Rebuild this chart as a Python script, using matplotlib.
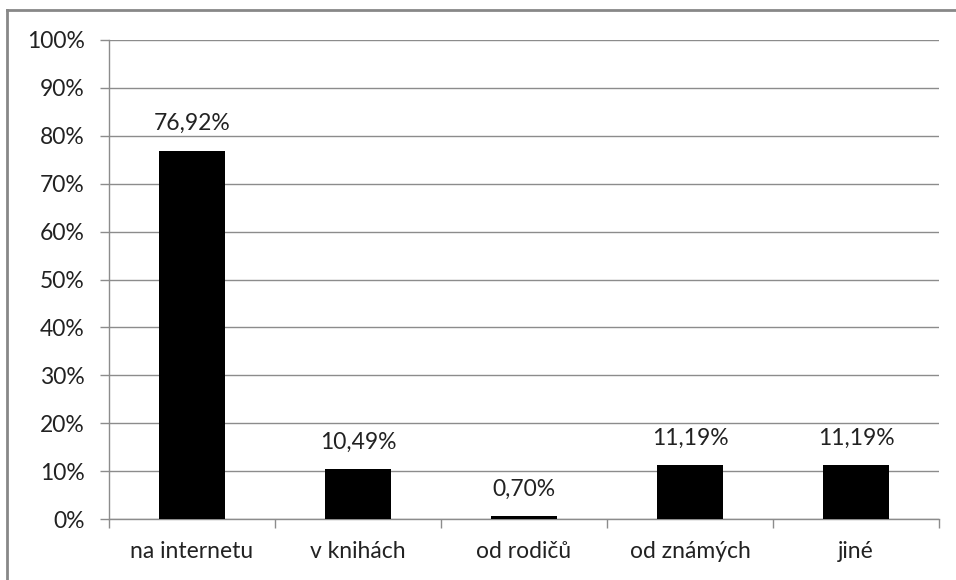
import matplotlib.pyplot as plt
from matplotlib.lines import Line2D

categories = ['na internetu', 'v knihách', 'od rodičů', 'od známých', 'jiné']
values = [76.92, 10.49, 0.70, 11.19, 11.19]
labels = ['76,92%', '10,49%', '0,70%', '11,19%', '11,19%']
y_ticks = list(range(0, 101, 10))

plt.rcParams['font.family'] = ['Lato', 'DejaVu Sans']

fig = plt.figure(figsize=(9.56, 5.8), dpi=100)
ax = fig.add_axes([109 / 956, 61 / 580, 830 / 956, 479 / 580])

grid_col = '#8c8c8c'
txt_col = '#222222'
fs = 16.5
x = list(range(len(categories)))
ax.bar(x, values, width=0.4, color='black', zorder=3)

for xi, v, t in zip(x, values, labels):
    ax.text(xi, v + 3.4, t, ha='center', va='bottom', fontsize=fs, color=txt_col)

ax.set_xlim(-0.5, len(categories) - 0.5)
ax.set_ylim(0, 100)
ax.set_yticks(y_ticks)
ax.set_yticklabels([f'{t}%' for t in y_ticks], fontsize=fs, color=txt_col)
ax.yaxis.grid(True, color=grid_col, linewidth=1, zorder=0)

ax.set_xticks(x)
ax.set_xticklabels(categories, fontsize=fs, color=txt_col)
ax.tick_params(axis='x', length=0, pad=16)
ax.tick_params(axis='y', length=6.5, color=grid_col, pad=11, width=1)

# category separator ticks
ax.set_xticks([i - 0.5 for i in range(len(categories) + 1)], minor=True)
ax.tick_params(axis='x', which='minor', length=6.5, color=grid_col, width=1)

for s in ['top', 'right']:
    ax.spines[s].set_visible(False)
for s in ['left', 'bottom']:
    ax.spines[s].set_color(grid_col)
    ax.spines[s].set_linewidth(1)

# outer chart border (top and left visible)
fig.add_artist(Line2D([7 / 956, 7 / 956], [0, 1 - 10 / 580], color='#888888', linewidth=2))
fig.add_artist(Line2D([7 / 956, 1], [1 - 10 / 580, 1 - 10 / 580], color='#888888', linewidth=2))

plt.savefig('out.png', dpi=100)
